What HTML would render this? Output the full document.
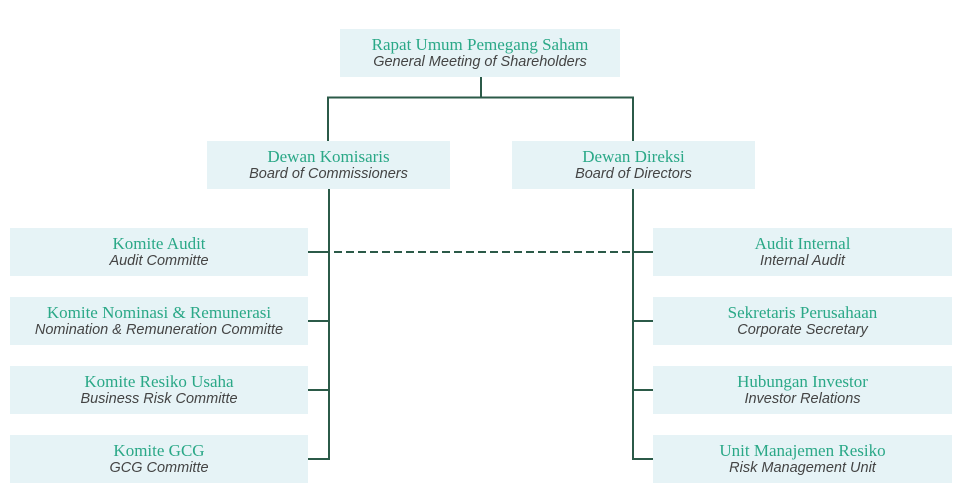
<!DOCTYPE html>
<html><head><meta charset="utf-8"><style>
html,body{margin:0;padding:0;background:#fff;width:960px;height:500px;overflow:hidden;position:relative;font-family:"Liberation Serif",serif}
.b{position:absolute;background:#e6f3f6;text-align:center;box-sizing:border-box;padding-top:7px;height:48px}
.t{color:#2aa887;font-size:17px;line-height:18px;white-space:nowrap}
.s{color:#444;font-size:14.5px;line-height:17px;font-style:italic;font-family:"Liberation Sans",sans-serif;white-space:nowrap}
svg{position:absolute;left:0;top:0}
</style></head><body>
<svg width="960" height="500">
<g stroke="#2b5a48" stroke-width="2" fill="none">
<path d="M481 77V97.5M328 141V97.5H633V141"/>
<path d="M329 189V460M633 189V460"/>
<path d="M308 252H329M308 321H329M308 390H329M308 459H329"/>
<path d="M653 252H633M653 321H633M653 390H633M653 459H633"/>
<path d="M334 252H630" stroke-dasharray="8,4"/>
</g></svg>
<div class="b" style="left:340px;top:29px;width:280px"><div class="t">Rapat Umum Pemegang Saham</div><div class="s">General Meeting of Shareholders</div></div>
<div class="b" style="left:207px;top:141px;width:243px"><div class="t">Dewan Komisaris</div><div class="s">Board of Commissioners</div></div>
<div class="b" style="left:512px;top:141px;width:243px"><div class="t">Dewan Direksi</div><div class="s">Board of Directors</div></div>
<div class="b" style="left:10px;top:228px;width:298px"><div class="t">Komite Audit</div><div class="s">Audit Committe</div></div>
<div class="b" style="left:10px;top:297px;width:298px"><div class="t">Komite Nominasi &amp; Remunerasi</div><div class="s">Nomination &amp; Remuneration Committe</div></div>
<div class="b" style="left:10px;top:366px;width:298px"><div class="t">Komite Resiko Usaha</div><div class="s">Business Risk Committe</div></div>
<div class="b" style="left:10px;top:435px;width:298px"><div class="t">Komite GCG</div><div class="s">GCG Committe</div></div>
<div class="b" style="left:653px;top:228px;width:299px"><div class="t">Audit Internal</div><div class="s">Internal Audit</div></div>
<div class="b" style="left:653px;top:297px;width:299px"><div class="t">Sekretaris Perusahaan</div><div class="s">Corporate Secretary</div></div>
<div class="b" style="left:653px;top:366px;width:299px"><div class="t">Hubungan Investor</div><div class="s">Investor Relations</div></div>
<div class="b" style="left:653px;top:435px;width:299px"><div class="t">Unit Manajemen Resiko</div><div class="s">Risk Management Unit</div></div>
</body></html>
